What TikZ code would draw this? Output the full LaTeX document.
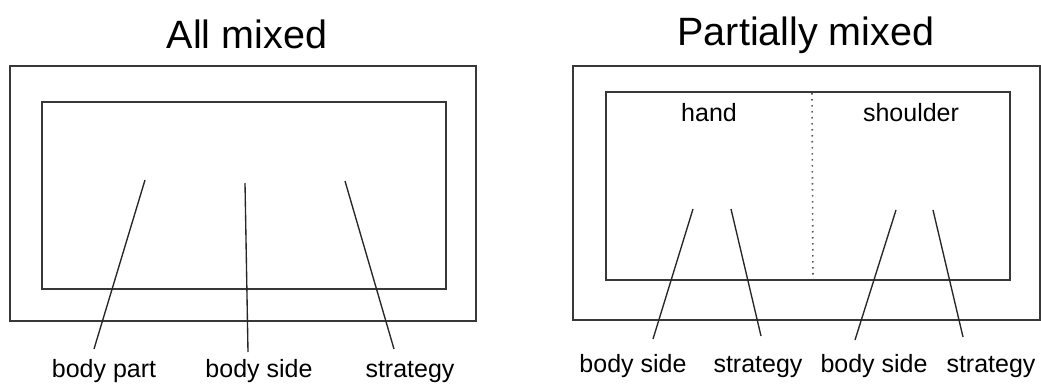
\documentclass[tikz,border=0pt]{standalone}
\usepackage{fontspec}
\setmainfont{Liberation Sans}
\begin{document}
\begin{tikzpicture}[x=1pt,y=-1pt,
  box/.style={draw=black!78,line width=1.6pt,inner sep=0pt,outer sep=0pt,anchor=north west},
  lead/.style={draw=black!85,line width=1.35pt},
  sep/.style={draw=black!65,line width=1.6pt,dash pattern=on 1.5pt off 4.5pt},
  ttl/.style={font=\fontsize{39.5}{40}\selectfont,anchor=base,inner sep=0pt},
  lbl/.style={font=\fontsize{25}{26}\selectfont,anchor=base,inner sep=0pt}]
\useasboundingbox (0,0) rectangle (1041,383);
% left panel
\node[ttl] (tL) at (247,48) {All mixed};
\node[box,minimum width=466pt,minimum height=255pt] (oL) at (10,66) {};
\node[box,minimum width=404pt,minimum height=187pt] (iL) at (42,102) {};
\node[lbl] (lL1) at (104,377) {body part};
\node[lbl] (lL2) at (259,377) {body side};
\node[lbl] (lL3) at (410,377) {strategy};
\coordinate (aL1) at (145,180); \coordinate (bL1) at (94,349);
\coordinate (aL2) at (245,183); \coordinate (bL2) at (248,352);
\coordinate (aL3) at (345,181); \coordinate (bL3) at (394,349);
\draw[lead] (aL1) -- (bL1);
\draw[lead] (aL2) -- (bL2);
\draw[lead] (aL3) -- (bL3);
% right panel
\node[ttl] (tR) at (806,45) {Partially mixed};
\node[box,minimum width=467pt,minimum height=254pt] (oR) at (573,66) {};
\node[box,minimum width=404pt,minimum height=188pt] (iR) at (606,92) {};
\coordinate (dTop) at (812,93); \coordinate (dBot) at (813,279);
\draw[sep] (dTop) -- (dBot);
\node[lbl] (hand) at (709,121) {hand};
\node[lbl] (shoulder) at (911,121) {shoulder};
\node[lbl] (lR1) at (633,372) {body side};
\node[lbl] (lR2) at (758,372) {strategy};
\node[lbl] (lR3) at (874,372) {body side};
\node[lbl] (lR4) at (991,372) {strategy};
\coordinate (aR1) at (693,209); \coordinate (bR1) at (653,339);
\coordinate (aR2) at (731,209); \coordinate (bR2) at (761,336);
\coordinate (aR3) at (896,210); \coordinate (bR3) at (855,340);
\coordinate (aR4) at (933,210); \coordinate (bR4) at (963,337);
\draw[lead] (aR1) -- (bR1);
\draw[lead] (aR2) -- (bR2);
\draw[lead] (aR3) -- (bR3);
\draw[lead] (aR4) -- (bR4);
\end{tikzpicture}
\end{document}
